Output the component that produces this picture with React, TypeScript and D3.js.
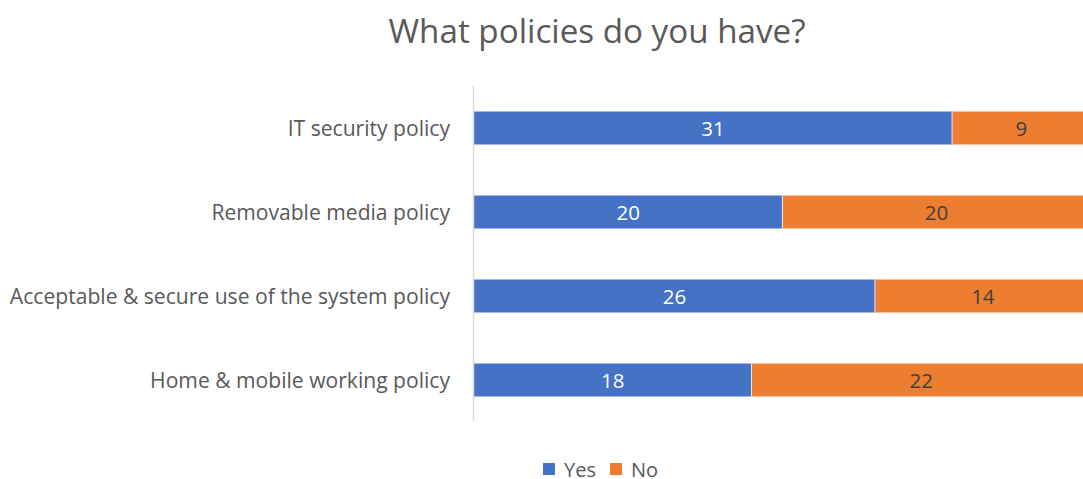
import React from "react";
import * as d3 from "d3";

const categories = [
  "IT security policy ",
  "Removable media policy",
  "Acceptable & secure use of the system policy",
  "Home & mobile working policy",
];
const yesValues = [31, 20, 26, 18];
const noValues = [9, 20, 14, 22];
const seriesNames = ["Yes", "No"];
const seriesColors = ["#4472C4", "#ED7D31"];

export default function App() {
  const width = 1083;
  const height = 479;
  const x0 = 474;
  const pxPerUnit = 15.42;
  const x = d3.scaleLinear().domain([0, 40]).range([x0, x0 + 40 * pxPerUnit]);
  const y = d3.scaleBand<string>().domain(categories).range([86, 422]).paddingInner(0.607).paddingOuter(0.3035);
  const font = "'Open Sans', sans-serif";
  const rows = categories.map((c, i) => ({ c, yes: yesValues[i], no: noValues[i] }));
  const legendX = [543, 610];
  return (
    <svg width={width} height={height} style={{ position: "absolute", left: 0, top: 0 }}>
      <rect width={width} height={height} fill="#ffffff" />
      <text x={597} y={43} textAnchor="middle" fontFamily={font} fontSize={33.2} fill="#595959">
        What policies do you have?
      </text>
      {rows.map((r) => {
        const yy = y(r.c)!;
        const h = y.bandwidth();
        return (
          <g key={r.c}>
            <rect x={x(0)} y={yy} width={x(r.yes) - x(0)} height={h} fill={seriesColors[0]} />
            <rect x={x(r.yes)} y={yy} width={x(r.yes + r.no) - x(r.yes)} height={h} fill={seriesColors[1]} />
            <line x1={x(r.yes)} x2={x(r.yes)} y1={yy} y2={yy + h} stroke="#ffffff" strokeWidth={0.8} />
            <text x={(x(0) + x(r.yes)) / 2} y={yy + h / 2} dy="0.37em" textAnchor="middle" fontFamily={font} fontSize={20.5} fill="#ffffff">
              {r.yes}
            </text>
            <text x={(x(r.yes) + x(r.yes + r.no)) / 2} y={yy + h / 2} dy="0.37em" textAnchor="middle" fontFamily={font} fontSize={20.5} fill="#404040">
              {r.no}
            </text>
            <text x={450} y={yy + h / 2} dy="0.38em" textAnchor="end" fontFamily={font} fontSize={21.1} fill="#595959">
              {r.c}
            </text>
          </g>
        );
      })}
      <line x1={473.5} x2={473.5} y1={86} y2={421} stroke="#D9D9D9" strokeWidth={1.5} />
      {seriesNames.map((s, i) => {
        const lx = legendX[i];
        return (
          <g key={s}>
            <rect x={lx} y={463} width={12} height={12} fill={seriesColors[i]} />
            <text x={lx + 21} y={477} fontFamily={font} fontSize={20} fill="#595959">
              {s}
            </text>
          </g>
        );
      })}
    </svg>
  );
}
